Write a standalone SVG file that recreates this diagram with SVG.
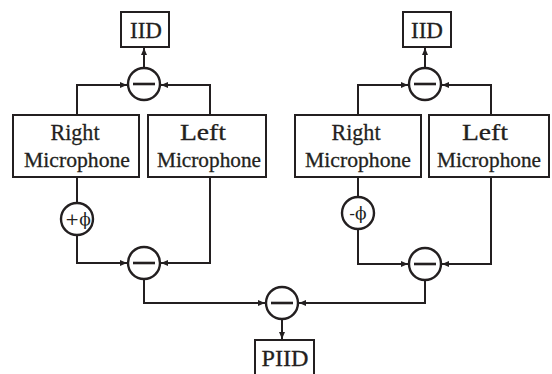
<svg xmlns="http://www.w3.org/2000/svg" width="552" height="374" viewBox="0 0 552 374">
<style>
.box{fill:#fff;stroke:#231f20;stroke-width:2}
.sum{fill:#fff;stroke:#231f20;stroke-width:2.4}
.bar{stroke:#231f20;stroke-width:2.6}
.wire{fill:none;stroke:#231f20;stroke-width:2}
.t{font-family:"Liberation Serif","Times New Roman",serif;font-size:24px;fill:#231f20;stroke:#231f20;stroke-width:0.3;text-anchor:middle}
.m{font-size:22px}
.p{font-family:"DejaVu Serif","Liberation Serif",serif;font-size:17px;fill:#231f20;text-anchor:middle}
</style>
<defs>
<marker id="ah" markerUnits="userSpaceOnUse" markerWidth="8" markerHeight="7" refX="7" refY="3" orient="auto">
<path d="M0,0 L7,3 L0,6 z" fill="#231f20"/>
</marker>
</defs>
<rect width="552" height="374" fill="#fff"/>
<g id="connectors">
<path class="wire" d="M77,115 V85 H127" marker-end="url(#ah)"/>
<path class="wire" d="M210,115 V85 H161" marker-end="url(#ah)"/>
<path class="wire" d="M144,67 V48" marker-end="url(#ah)"/>
<path class="wire" d="M77,177 V203"/>
<path class="wire" d="M77,236 V263 H127" marker-end="url(#ah)"/>
<path class="wire" d="M210,177 V263 H161" marker-end="url(#ah)"/>
<path class="wire" d="M144,280 V303 H265" marker-end="url(#ah)"/>
<path class="wire" d="M358,115 V85 H408" marker-end="url(#ah)"/>
<path class="wire" d="M491,115 V85 H442" marker-end="url(#ah)"/>
<path class="wire" d="M425,67 V48" marker-end="url(#ah)"/>
<path class="wire" d="M358,177 V197"/>
<path class="wire" d="M358,230 V264 H408" marker-end="url(#ah)"/>
<path class="wire" d="M491,177 V264 H442" marker-end="url(#ah)"/>
<path class="wire" d="M425,281 V303 H299" marker-end="url(#ah)"/>
<path class="wire" d="M282,320 V339" marker-end="url(#ah)"/>
</g>
<g id="iid-left">
<rect class="box" x="121" y="12" width="48" height="35"/>
<text class="t" x="146" y="37.5" textLength="32" lengthAdjust="spacingAndGlyphs">IID</text>
</g>
<g id="sub-top-left">
<circle class="sum" cx="144" cy="84" r="16"/>
<line class="bar" x1="133" y1="84" x2="155" y2="84"/>
</g>
<g id="right-mic-left">
<rect class="box" x="13" y="115" width="126" height="62"/>
<text class="t" x="75" y="140" textLength="49" lengthAdjust="spacingAndGlyphs">Right</text>
<text class="t m" x="77" y="167" textLength="106" lengthAdjust="spacingAndGlyphs">Microphone</text>
</g>
<g id="left-mic-left">
<rect class="box" x="148" y="115" width="118" height="62"/>
<text class="t" x="203" y="140" textLength="46" lengthAdjust="spacingAndGlyphs">Left</text>
<text class="t m" x="209" y="167" textLength="104" lengthAdjust="spacingAndGlyphs">Microphone</text>
</g>
<g id="phase-plus">
<circle class="sum" cx="77" cy="219" r="16"/>
<text class="p" x="78" y="225">+ϕ</text>
</g>
<g id="sub-bottom-left">
<circle class="sum" cx="144" cy="263" r="16"/>
<line class="bar" x1="133" y1="263" x2="155" y2="263"/>
</g>
<g id="iid-right">
<rect class="box" x="403" y="12" width="48" height="35"/>
<text class="t" x="427" y="37.5" textLength="32" lengthAdjust="spacingAndGlyphs">IID</text>
</g>
<g id="sub-top-right">
<circle class="sum" cx="425" cy="84" r="16"/>
<line class="bar" x1="414" y1="84" x2="436" y2="84"/>
</g>
<g id="right-mic-right">
<rect class="box" x="295" y="115" width="126" height="62"/>
<text class="t" x="356" y="140" textLength="49" lengthAdjust="spacingAndGlyphs">Right</text>
<text class="t m" x="358" y="167" textLength="106" lengthAdjust="spacingAndGlyphs">Microphone</text>
</g>
<g id="left-mic-right">
<rect class="box" x="429" y="115" width="120" height="62"/>
<text class="t" x="485" y="140" textLength="46" lengthAdjust="spacingAndGlyphs">Left</text>
<text class="t m" x="489" y="167" textLength="104" lengthAdjust="spacingAndGlyphs">Microphone</text>
</g>
<g id="phase-minus">
<circle class="sum" cx="358" cy="213" r="16"/>
<text class="p" x="358" y="219">-ϕ</text>
</g>
<g id="sub-bottom-right">
<circle class="sum" cx="425" cy="264" r="16"/>
<line class="bar" x1="414" y1="264" x2="436" y2="264"/>
</g>
<g id="sub-final">
<circle class="sum" cx="282" cy="303" r="16"/>
<line class="bar" x1="271" y1="303" x2="293" y2="303"/>
</g>
<g id="piid">
<rect class="box" x="255" y="340" width="59" height="40"/>
<text class="t" x="285" y="365.5" textLength="47" lengthAdjust="spacingAndGlyphs">PIID</text>
</g>
</svg>
